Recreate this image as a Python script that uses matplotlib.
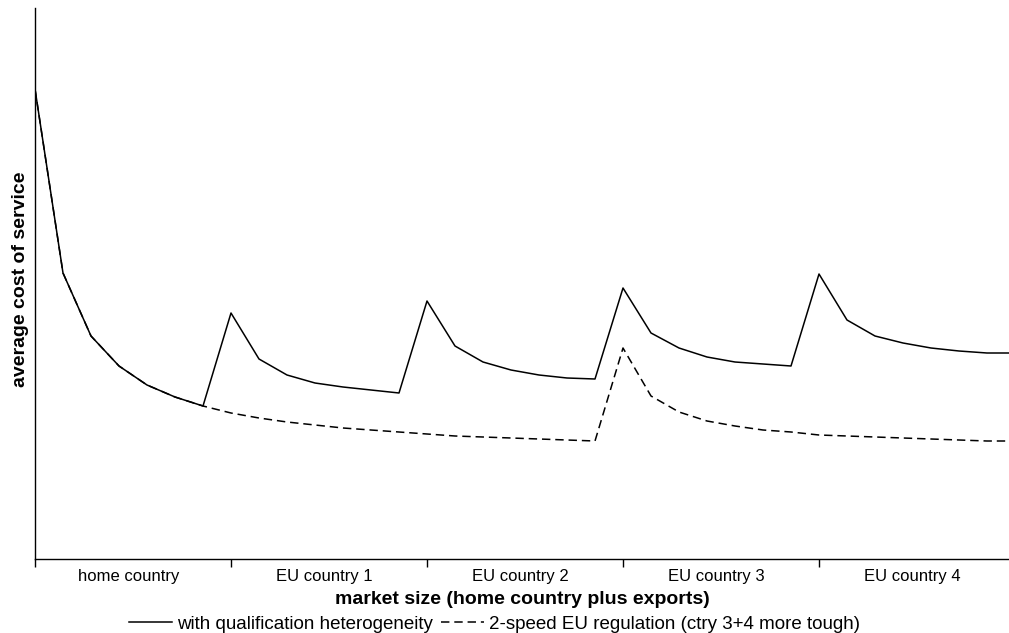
import matplotlib.pyplot as plt
from matplotlib.lines import Line2D

# ---- data (arbitrary cost units) ----
categories = ["home country", "EU country 1", "EU country 2", "EU country 3", "EU country 4"]
points_per_country = 7

cost_heterogeneity = [
    470, 286, 223, 193, 174, 162, 153,
    246, 200, 184, 176, 172, 169, 166,
    258, 213, 197, 189, 184, 181, 180,
    271, 226, 211, 202, 197, 195, 193,
    285, 239, 223, 216, 211, 208, 206, 206,
]
cost_two_speed = [
    470, 286, 223, 193, 174, 162, 153,
    146, 141, 137, 134, 131, 129, 127,
    125, 123, 122, 121, 120, 119, 118,
    211, 163, 147, 138, 133, 129, 127,
    124, 123, 122, 121, 120, 119, 118, 118,
]

plt.rcParams["font.family"] = ["Liberation Sans", "DejaVu Sans"]

fig = plt.figure(figsize=(10.09, 6.33), dpi=100)
ax = fig.add_axes([35 / 1009, 1 - 559 / 633, 1 - 35 / 1009, 551 / 633])

x = list(range(len(cost_heterogeneity)))
dash = (0, (5.5, 3.2))
ax.plot(x, cost_two_speed, color="black", lw=1.1, linestyle=dash)
ax.plot(x, cost_heterogeneity, color="black", lw=1.1)

ax.set_xlim(0, (1009 - 35) / 28)
ax.set_ylim(0, 551)

for side in ["top", "right"]:
    ax.spines[side].set_visible(False)
ax.spines["left"].set_linewidth(1.0)
ax.spines["bottom"].set_linewidth(1.0)

# country boundaries as major ticks, names centred between them
bounds = [i * points_per_country for i in range(len(categories))]
ax.set_xticks(bounds)
ax.set_xticklabels([])
ax.tick_params(axis="x", which="major", length=6, width=1.0, direction="out")
ax.set_xticks([b + points_per_country / 2 - 0.15 for b in bounds], minor=True)
ax.set_xticklabels(categories, minor=True, fontsize=12)
ax.tick_params(axis="x", which="minor", length=0, pad=7.5)
ax.set_yticks([])

ax.set_xlabel("market size (home country plus exports)", fontsize=14,
              fontweight="bold", labelpad=5)
ax.set_ylabel("average cost of service", fontsize=14, fontweight="bold")
ax.yaxis.set_label_coords(-0.006, 0.508)

handles = [
    Line2D([], [], color="black", lw=1.1),
    Line2D([], [], color="black", lw=1.1, linestyle=dash),
]
fig.legend(handles, ["with qualification heterogeneity",
                     "2-speed EU regulation (ctry 3+4 more tough)"],
           loc="lower center", bbox_to_anchor=(0.49, -0.026), ncol=2, frameon=False,
           fontsize=13.5, handlelength=2.3, handletextpad=0.27, columnspacing=0.43)

fig.savefig("out.png", dpi=100)
